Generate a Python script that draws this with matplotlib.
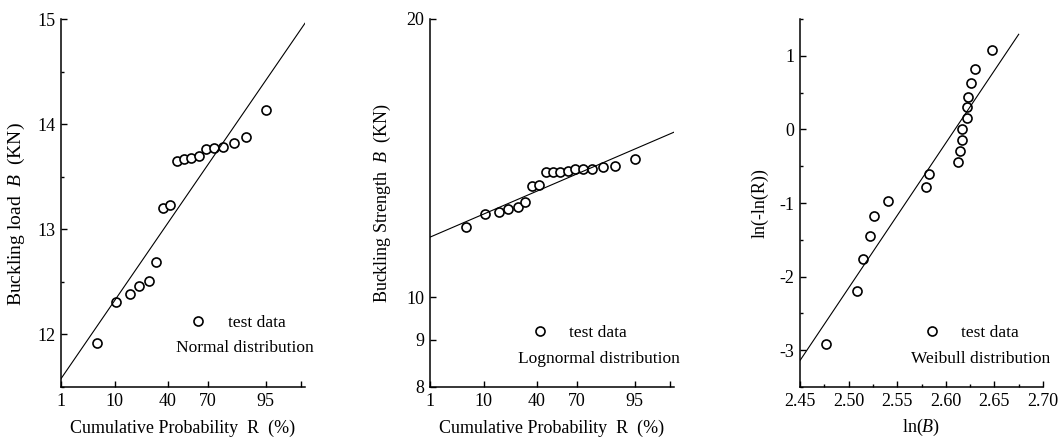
import numpy as np
import matplotlib
matplotlib.use("Agg")
import matplotlib.pyplot as plt
from matplotlib.ticker import FixedLocator, FixedFormatter, NullLocator, MultipleLocator
from statistics import NormalDist

plt.rcParams['font.family'] = ['Liberation Serif', 'DejaVu Serif']
plt.rcParams['mathtext.fontset'] = 'custom'
plt.rcParams['mathtext.rm'] = 'Liberation Serif'
plt.rcParams['mathtext.it'] = 'Liberation Serif:italic'
plt.rcParams['font.size'] = 12.5

# datos leidos de la figura
# probabilidad acumulada R (%) de cada ensayo
R_pct = [5.2, 10.4, 16.0, 21.0, 26.5, 31.6, 36.5, 42.0, 47.0,
         52.6, 58.0, 63.4, 69.0, 74.0, 79.5, 84.8, 89.7, 95.0]
# carga de pandeo B (KN)
B_kn = [11.92, 12.31, 12.38, 12.46, 12.51, 12.69, 13.20, 13.23, 13.65,
        13.67, 13.68, 13.70, 13.76, 13.77, 13.78, 13.82, 13.88, 14.13]
# panel weibull: ln(B) y ln(-ln(R))
lnB = [2.477, 2.509, 2.515, 2.522, 2.526, 2.541, 2.580, 2.583, 2.613,
       2.615, 2.617, 2.617, 2.622, 2.622, 2.623, 2.626, 2.630, 2.648]
lnlnR = [-2.91, -2.20, -1.76, -1.445, -1.18, -0.97, -0.78, -0.61, -0.445,
         -0.295, -0.145, 0.0, 0.15, 0.30, 0.445, 0.625, 0.82, 1.08]

# parametros de las rectas ajustadas
normal_mu, normal_sigma = 13.24, 0.714
logn_median, logn_s = 13.21, 0.0552
weib_k, weib_lneta = 19.7, 2.6094

prob_ticks = [1, 10, 40, 70, 95, 99]
prob_labels = ['1', '10', '40', '70', '95', '']

nd = NormalDist()


# escala de probabilidad normal (percentil -> z)
def fwd(p):
    p = np.clip(np.asarray(p, dtype=float) / 100.0, 1e-6, 1 - 1e-6)
    return np.vectorize(nd.inv_cdf, otypes=[float])(p)


def inv(z):
    return np.vectorize(nd.cdf, otypes=[float])(np.asarray(z, dtype=float)) * 100.0


def estilo(ax):
    for s in ['top', 'right']:
        ax.spines[s].set_visible(False)
    for s in ['left', 'bottom']:
        ax.spines[s].set_linewidth(1.1)
    ax.tick_params(which='major', direction='in', length=4, width=1.0, pad=4,
                   labelsize=13)
    ax.tick_params(which='minor', direction='in', length=2.5, width=1.0)


def leyenda(ax, pts, anchor, texto, pos):
    ax.legend(handles=[pts], labels=['test data'], loc='center left',
              bbox_to_anchor=anchor, frameon=False, handlelength=1.0,
              handletextpad=1.2, borderpad=0, borderaxespad=0)
    ax.text(pos[0], pos[1], texto, transform=ax.transAxes,
            ha='left', va='center', clip_on=False)


fig = plt.figure(figsize=(10.62, 4.38), dpi=100)
W, H = 1062.0, 438.0
mk = dict(marker='o', ls='none', mfc='white', mec='black', ms=6.5, mew=1.2)
r_line = np.array([1.0, 99.2])

# panel 1: normal
ax1 = fig.add_axes([61 / W, 51 / H, 244 / W, 368 / H])
ax1.set_xscale('function', functions=(fwd, inv))
ax1.set_xlim(1, 99.2)
ax1.set_ylim(11.5, 15)
p1, = ax1.plot(R_pct, B_kn, **mk)
ax1.plot(r_line, normal_mu + normal_sigma * fwd(r_line), color='black', lw=0.8)
ax1.xaxis.set_major_locator(FixedLocator(prob_ticks))
ax1.xaxis.set_major_formatter(FixedFormatter(prob_labels))
ax1.xaxis.set_minor_locator(NullLocator())
ax1.yaxis.set_major_locator(MultipleLocator(1))
ax1.yaxis.set_minor_locator(MultipleLocator(0.5))
estilo(ax1)
ax1.set_xlabel('Cumulative Probability  R  (%)', labelpad=7, fontsize=13)
ax1.set_ylabel('Buckling load  $B$  (KN)', fontsize=14)
ax1.yaxis.set_label_coords(-0.14, 0.47)
leyenda(ax1, p1, (0.527, 0.174), 'Normal distribution', (0.471, 0.106))

# panel 2: lognormal
ax2 = fig.add_axes([430 / W, 51 / H, 244 / W, 368 / H])
ax2.set_xscale('function', functions=(fwd, inv))
ax2.set_yscale('log')
ax2.set_xlim(1, 99.2)
ax2.set_ylim(8, 20)
p2, = ax2.plot(R_pct, B_kn, **mk)
ax2.plot(r_line, logn_median * np.exp(logn_s * fwd(r_line)), color='black', lw=0.8)
ax2.xaxis.set_major_locator(FixedLocator(prob_ticks))
ax2.xaxis.set_major_formatter(FixedFormatter(prob_labels))
ax2.xaxis.set_minor_locator(NullLocator())
ax2.yaxis.set_major_locator(FixedLocator([8, 9, 10, 20]))
ax2.yaxis.set_major_formatter(FixedFormatter(['8', '9', '10', '20']))
ax2.yaxis.set_minor_locator(NullLocator())
estilo(ax2)
ax2.set_xlabel('Cumulative Probability  R  (%)', labelpad=7, fontsize=13)
ax2.set_ylabel('Buckling Strength  $B$  (KN)', labelpad=10, fontsize=13)
leyenda(ax2, p2, (0.414, 0.148), 'Lognormal distribution', (0.359, 0.075))

# panel 3: weibull
ax3 = fig.add_axes([800 / W, 51 / H, 243 / W, 368 / H])
ax3.set_xlim(2.45, 2.70)
ax3.set_ylim(-3.5, 1.5)
p3, = ax3.plot(lnB, lnlnR, **mk)
x_line = np.array([2.45, 2.675])
ax3.plot(x_line, weib_k * (x_line - weib_lneta), color='black', lw=0.8)
ax3.xaxis.set_major_locator(MultipleLocator(0.05))
ax3.xaxis.set_minor_locator(MultipleLocator(0.025))
ax3.xaxis.set_major_formatter(plt.FormatStrFormatter('%.2f'))
ax3.yaxis.set_major_locator(MultipleLocator(1))
ax3.yaxis.set_minor_locator(MultipleLocator(0.5))
ax3.yaxis.set_major_formatter(plt.FuncFormatter(lambda v, p: '%d' % v))
estilo(ax3)
ax3.set_xlabel('ln($B$)', labelpad=5, fontsize=13)
ax3.set_ylabel('ln(-ln(R))', labelpad=8, fontsize=13)
leyenda(ax3, p3, (0.507, 0.148), 'Weibull distribution', (0.456, 0.075))

fig.savefig('out.png', dpi=100)
